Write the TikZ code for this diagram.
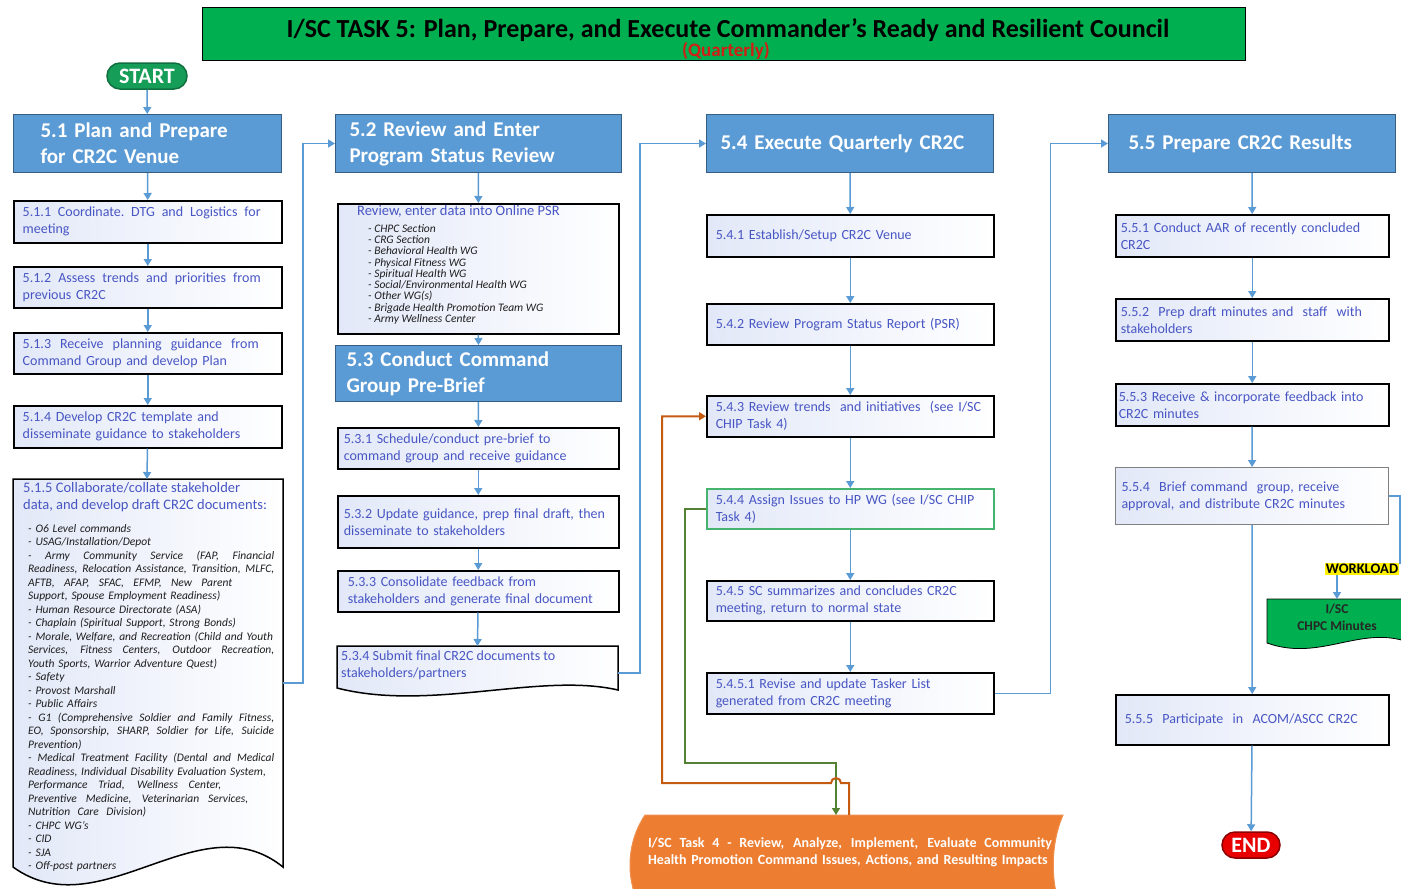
\documentclass[tikz,border=0pt]{standalone}
\usepackage{fontspec}
\setmainfont{Carlito}
\usetikzlibrary{arrows.meta}

\definecolor{hdrblue}{RGB}{91,155,213}
\definecolor{txtblue}{RGB}{72,86,196}
\definecolor{lineblue}{RGB}{91,155,213}
\definecolor{titlegreen}{RGB}{0,176,80}
\definecolor{startgreen}{RGB}{22,158,88}
\definecolor{hpgreen}{RGB}{70,180,110}
\definecolor{linegreen}{RGB}{84,130,53}
\definecolor{taskorange}{RGB}{237,125,49}
\definecolor{lineorange}{RGB}{197,90,17}
\definecolor{endred}{RGB}{232,0,0}
\definecolor{qred}{RGB}{210,30,20}
\definecolor{boxshade}{RGB}{226,232,248}
\definecolor{listgray}{RGB}{30,30,30}

% justified single line: spread the words over a given width
\newcommand{\jline}[2]{{\spaceskip=0.23em plus 1fil\xspaceskip=\spaceskip\makebox[#1][s]{#2}}}

\tikzset{
  header/.style={anchor=north west, fill=hdrblue, draw=hdrblue!60!black, line width=1pt,
    text=white, align=left, font=\bfseries\fontsize{21}{26}\selectfont, inner ysep=0pt},
  stepbox/.style={anchor=north west, draw=black, line width=1.5pt, left color=boxshade,
    right color=white, text=txtblue, align=left, font=\fontsize{14}{17}\selectfont,
    inner xsep=9pt, inner ysep=0pt},
  docbox/.style={draw=black, line width=1.5pt, left color=boxshade, right color=white},
  listtext/.style={anchor=north west, text=listgray, align=left, inner sep=0pt},
  pill/.style={rounded corners=13pt, minimum height=26pt, text=white,
    font=\bfseries\fontsize{22}{24}\selectfont, line width=1.5pt},
  flow/.style={draw=lineblue, line width=1.5pt, -{Triangle[width=8pt,length=7pt]}},
  orangeflow/.style={draw=lineorange, line width=2pt, -{Triangle[width=8pt,length=7pt]}},
  greenflow/.style={draw=linegreen, line width=1.5pt, -{Triangle[width=8pt,length=7pt]}},
}

\begin{document}
\begin{tikzpicture}[x=1pt,y=-1pt]
  \useasboundingbox (0,0) rectangle (1401,889);
  \clip (0,0) rectangle (1401,889);
  \fill[white] (0,0) rectangle (1401,889);

  %Title
  \node[fill=titlegreen, draw=black, line width=0.8pt, minimum width=1043pt, minimum height=53pt] (title) at (723.5,33.5) {};
  \node[font=\bfseries\fontsize{26}{28}\selectfont] (titletext) at (728,30) {I/SC TASK 5: Plan, Prepare, and Execute Commander's Ready and Resilient Council};
  \node[text=qred, font=\bfseries\fontsize{19}{20}\selectfont] (quarterly) at (726,51) {(Quarterly)};

  \node[pill, fill=startgreen, draw=startgreen!70!black, minimum width=80pt] (start) at (147,76) {START};

  %Column 5.1
  \node[header, minimum width=268pt, minimum height=58pt, inner xsep=27pt, text width=214pt] (h51) at (13,114) {5.1 Plan and Prepare\\for CR2C Venue};
  \node[stepbox, text width=250pt, minimum height=42pt] (b511) at (13,200) {\jline{238pt}{5.1.1 Coordinate. DTG and Logistics for}\\meeting};
  \node[stepbox, text width=250pt, minimum height=41pt] (b512) at (13,266) {\jline{238pt}{5.1.2 Assess trends and priorities from}\\previous CR2C};
  \node[stepbox, text width=250pt, minimum height=41pt] (b513) at (13,332) {\jline{236pt}{5.1.3 Receive planning guidance from}\\Command Group and develop Plan};
  \node[stepbox, text width=250pt, minimum height=42pt] (b514) at (13,405) {5.1.4 Develop CR2C template and\\disseminate guidance to stakeholders};

  \draw[docbox] (13,479) -- (283,479) -- (283,867) .. controls (200,800) and (100,930) .. (13,867) -- cycle;
  \coordinate (d515top) at (147,479);
  \coordinate (d515out) at (283,683);
  \node[listtext, text=txtblue, font=\fontsize{14.5}{17}\selectfont] (b515) at (23,482) {5.1.5 Collaborate/collate stakeholder\\data, and develop draft CR2C documents:};
  \node[listtext, text width=246pt, font=\itshape\fontsize{11.5}{13.5}\selectfont] (l515) at (28,524) {%
    - O6 Level commands\\
    - USAG/Installation/Depot\\
    \jline{246pt}{- Army Community Service (FAP, Financial}\\
    \jline{246pt}{Readiness, Relocation Assistance, Transition, MLFC,}\\
    \jline{204pt}{AFTB, AFAP, SFAC, EFMP, New Parent}\\
    Support, Spouse Employment Readiness)\\
    - Human Resource Directorate (ASA)\\
    - Chaplain (Spiritual Support, Strong Bonds)\\
    - Morale, Welfare, and Recreation (Child and Youth\\
    \jline{246pt}{Services, Fitness Centers, Outdoor Recreation,}\\
    Youth Sports, Warrior Adventure Quest)\\
    - Safety\\
    - Provost Marshall\\
    - Public Affairs\\
    \jline{246pt}{- G1 (Comprehensive Soldier and Family Fitness,}\\
    \jline{246pt}{EO, Sponsorship, SHARP, Soldier for Life, Suicide}\\
    Prevention)\\
    \jline{246pt}{- Medical Treatment Facility (Dental and Medical}\\
    Readiness, Individual Disability Evaluation System,\\
    \jline{193pt}{Performance Triad, Wellness Center,}\\
    \jline{220pt}{Preventive Medicine, Veterinarian Services,}\\
    \jline{118pt}{Nutrition Care Division)}\\
    - CHPC WG's\\
    - CID\\
    - SJA\\
    - Off-post partners};

  %Column 5.2 / 5.3
  \node[header, minimum width=286pt, minimum height=58pt, inner xsep=14pt, text width=258pt] (h52) at (335,114) {5.2 Review and Enter\\Program Status Review};
  \node[stepbox, minimum width=281pt, minimum height=130pt] (psr) at (337,203) {};
  \node[listtext, anchor=base west, text=txtblue, font=\fontsize{14.5}{15}\selectfont] (psrtitle) at (357,215) {Review, enter data into Online PSR};
  \node[listtext, font=\itshape\fontsize{11.5}{11.3}\selectfont] (psrlist) at (368,224) {%
    - CHPC Section\\
    - CRG Section\\
    - Behavioral Health WG\\
    - Physical Fitness WG\\
    - Spiritual Health WG\\
    - Social/Environmental Health WG\\
    - Other WG(s)\\
    - Brigade Health Promotion Team WG\\
    - Army Wellness Center};
  \node[header, minimum width=286pt, minimum height=56pt, inner xsep=11pt, text width=264pt] (h53) at (335,345) {5.3 Conduct Command\\Group Pre-Brief};
  \node[stepbox, inner xsep=6pt, text width=269pt, minimum height=41pt] (b531) at (337,427) {5.3.1 Schedule/conduct pre-brief to\\command group and receive guidance};
  \node[stepbox, inner xsep=6pt, text width=269pt, minimum height=52pt] (b532) at (337,495) {5.3.2 Update guidance, prep final draft, then\\disseminate to stakeholders};
  \node[stepbox, inner xsep=10pt, text width=261pt, minimum height=41pt] (b533) at (337,570) {5.3.3 Consolidate feedback from\\stakeholders and generate final document};

  \draw[docbox] (337,646) -- (618,646) -- (618,690) .. controls (540,672) and (430,712) .. (337,688) -- cycle;
  \coordinate (d534top) at (477.5,646);
  \coordinate (d534out) at (618,673);
  \node[listtext, text=txtblue, font=\fontsize{14}{17}\selectfont] (b534) at (341,651) {5.3.4 Submit final CR2C documents to\\stakeholders/partners};

  %Column 5.4
  \node[header, minimum width=287pt, minimum height=58pt, inner xsep=14pt, text width=259pt] (h54) at (706,114) {5.4 Execute Quarterly CR2C};
  \node[stepbox, text width=269pt, minimum height=42pt] (b541) at (706,214) {5.4.1 Establish/Setup CR2C Venue};
  \node[stepbox, text width=269pt, minimum height=41pt] (b542) at (706,303) {5.4.2 Review Program Status Report (PSR)};
  \node[stepbox, text width=269pt, minimum height=41pt] (b543) at (706,395) {5.4.3 Review trends\ \ and initiatives\ \ (see I/SC\\CHIP Task 4)};
  \node[stepbox, draw=hpgreen, text width=269pt, minimum height=40pt] (b544) at (706,488) {5.4.4 Assign Issues to HP WG (see I/SC CHIP\\Task 4)};
  \node[stepbox, text width=269pt, minimum height=40pt] (b545) at (706,580) {5.4.5 SC summarizes and concludes CR2C\\meeting, return to normal state};
  \node[stepbox, text width=269pt, minimum height=41pt] (b5451) at (706,672) {5.4.5.1 Revise and update Tasker List\\generated from CR2C meeting};

  %Column 5.5
  \node[header, minimum width=287pt, minimum height=58pt, inner xsep=20pt, text width=247pt] (h55) at (1108,114) {5.5 Prepare CR2C Results};
  \node[stepbox, inner xsep=5pt, text width=263pt, minimum height=42pt] (b551) at (1115,214) {5.5.1 Conduct AAR of recently concluded\\CR2C};
  \node[stepbox, inner xsep=5pt, text width=263pt, minimum height=42pt] (b552) at (1115,298) {5.5.2\ \ Prep draft minutes and\ \ staff\ \ with\\stakeholders};
  \node[stepbox, inner xsep=3pt, text width=267pt, minimum height=42pt] (b553) at (1115,383) {5.5.3 Receive \& incorporate feedback into\\CR2C minutes};
  \node[stepbox, draw=gray, line width=1pt, inner xsep=6pt, text width=261pt, minimum height=57pt] (b554) at (1115,467) {5.5.4\ \ Brief command\ \ group,\ receive\\approval, and distribute CR2C minutes};
  \node[stepbox, inner xsep=9pt, text width=255pt, minimum height=50pt] (b555) at (1115,694) {5.5.5\ \ Participate\ \ in\ \ ACOM/ASCC CR2C};
  \node[pill, fill=endred, draw=endred!60!black, minimum width=58pt] (end) at (1251,845) {END};

  \node[fill=yellow, inner sep=1pt, font=\bfseries\fontsize{14.5}{16}\selectfont] (workload) at (1362,569) {WORKLOAD};
  \fill[titlegreen, draw=black, line width=0.8pt] (1267,599) -- (1408,599) -- (1408,642) .. controls (1360,625) and (1320,662) .. (1267,643) -- cycle;
  \coordinate (minutestop) at (1337,599);
  \node[align=center, font=\bfseries\fontsize{13.5}{17}\selectfont, text=black!85] (minutes) at (1337,617) {I/SC\\CHPC Minutes};

  %Task 4
  \fill[taskorange, draw=taskorange!85!white, line width=1pt] (645,815) -- (1063,815) .. controls (1050,845) and (1050,885) .. (1063,915) -- (645,915) .. controls (625,885) and (625,845) .. (645,815) -- cycle;
  \coordinate (task4in) at (836,815);
  \coordinate (task4out) at (849,815);
  \node[text=white, text width=404pt, align=left, inner sep=0pt, font=\bfseries\fontsize{14}{17}\selectfont] (task4) at (850,852) {\jline{404pt}{I/SC Task 4 - Review, Analyze, Implement, Evaluate Community}\\Health Promotion Command Issues, Actions, and Resulting Impacts};

  %Lines
  \draw[flow] (start) -- (h51);
  \draw[flow] (h51) -- (b511);
  \draw[flow] (b511) -- (b512);
  \draw[flow] (b512) -- (b513);
  \draw[flow] (b513) -- (b514);
  \draw[flow] (b514) -- (d515top);
  \draw[flow] (d515out) -- ++(20,0) |- (h52.west);

  \draw[flow] (h52) -- (psr);
  \draw[flow] (psr) -- (h53);
  \draw[flow] (h53) -- (b531);
  \draw[flow] (b531) -- (b532);
  \draw[flow] (b532) -- (b533);
  \draw[flow] (b533) -- (d534top);
  \draw[flow] (d534out) -- ++(22,0) |- (h54.west);

  \draw[flow] (h54) -- (b541);
  \draw[flow] (b541) -- (b542);
  \draw[flow] (b542) -- (b543);
  \draw[flow] (b543) -- (b544);
  \draw[flow] (b544) -- (b545);
  \draw[flow] (b545) -- (b5451);
  \draw[flow] (b5451.east) -- ++(56,0) |- (h55.west);

  \draw[flow] (h55) -- (b551);
  \draw[flow] (b551) -- (b552);
  \draw[flow] (b552) -- (b553);
  \draw[flow] (b553) -- (b554);
  \draw[flow] (b554) -- (b555);
  \draw[flow] (b555) -- (end);
  \draw[draw=lineblue, line width=1.5pt] (b554.east) -- ++(11,0) |- (workload.north east);
  \draw[flow] (workload.south -| minutestop) -- (minutestop);

  \draw[greenflow] (b544.west) -- ++(-21,0) |- (836,763) -- (task4in);
  \draw[orangeflow] (task4out) -- (849,783) -- (841,783) arc[start angle=0, end angle=180, radius=5pt] -- (662,783) |- (b543.west);
\end{tikzpicture}
\end{document}
